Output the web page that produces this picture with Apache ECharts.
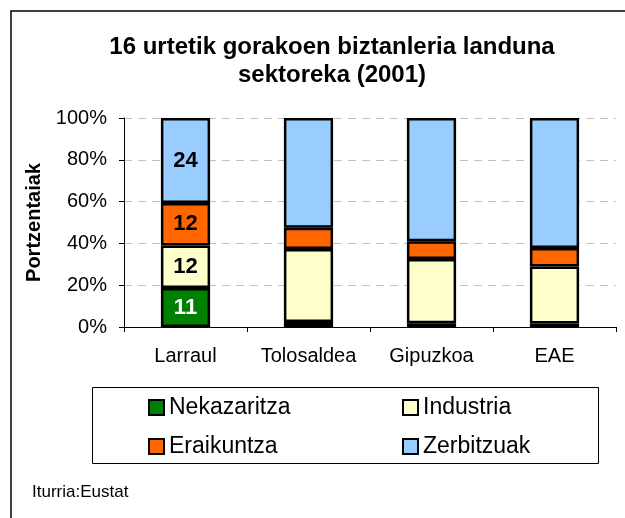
<!DOCTYPE html>
<html><head><meta charset="utf-8">
<script src="https://cdn.jsdelivr.net/npm/echarts@6/dist/echarts.min.js"></script>
<style>html,body{margin:0;padding:0;background:#fff}#c{width:625px;height:518px}</style>
</head><body><div id="c"></div>
<script>
const categories = ['Larraul', 'Tolosaldea', 'Gipuzkoa', 'EAE'];
const seriesNames = ['Nekazaritza', 'Industria', 'Eraikuntza', 'Zerbitzuak'];
// Larraul: persons (shown as labels); others: percentages
const nekazaritza = [11, 2.4, 1.8, 1.7];
const industria   = [12, 34.9, 30.7, 27.2];
const eraikuntza  = [12, 10.2, 8.5, 8.9];
const zerbitzuak  = [24, 52.5, 59.0, 62.2];
const labelled = [true, false, false, false];
const yTicks = [0, 20, 40, 60, 80, 100];
const colors = ['#008000', '#FFFFCC', '#FF6600', '#99CCFF'];
const labelColors = ['#fff', '#000', '#000', '#000'];

const raw = [nekazaritza, industria, eraikuntza, zerbitzuak];
const totals = categories.map((c, i) => raw.reduce((s, a) => s + a[i], 0));

const chart = echarts.init(document.getElementById('c'), null, {renderer: 'canvas'});
const FONT = 'Liberation Sans, Arial, sans-serif';
chart.setOption({
  animation: false,
  title: {
    text: '16 urtetik gorakoen biztanleria landuna\nsektoreka (2001)',
    left: 327, top: 28, textAlign: 'center',
    textStyle: {fontFamily: FONT, fontSize: 24, fontWeight: 'bold', color: '#000', lineHeight: 28}
  },
  graphic: [
    {type: 'rect', shape: {x: 11, y: 11, width: 640, height: 540}, style: {fill: 'none', stroke: '#000', lineWidth: 1.5}, z: -1},
    {type: 'rect', shape: {x: 92.5, y: 387.5, width: 506, height: 76}, style: {fill: 'none', stroke: '#000', lineWidth: 1}},
    {type: 'text', left: 32, top: 484, style: {text: 'Iturria:Eustat', font: '17px ' + FONT, fill: '#000'}}
  ],
  legend: [
    {data: [seriesNames[0], seriesNames[2]], orient: 'vertical', left: 143, top: 391,
     itemWidth: 15, itemHeight: 15, itemGap: 16, icon: 'rect',
     textStyle: {fontFamily: FONT, fontSize: 23, color: '#000'}},
    {data: [seriesNames[1], seriesNames[3]], orient: 'vertical', left: 397, top: 391,
     itemWidth: 15, itemHeight: 15, itemGap: 16, icon: 'rect',
     textStyle: {fontFamily: FONT, fontSize: 23, color: '#000'}}
  ],
  grid: {left: 124, right: 9, top: 118, height: 209, containLabel: false},
  xAxis: {
    type: 'category', data: categories,
    axisLine: {lineStyle: {color: '#000', width: 1}},
    axisTick: {show: true, length: 5, alignWithLabel: false, lineStyle: {color: '#000'}},
    axisLabel: {fontFamily: FONT, fontSize: 20, color: '#000', margin: 19, interval: 0}
  },
  yAxis: {
    type: 'value', min: 0, max: 100, interval: 20,
    name: 'Portzentaiak', nameLocation: 'middle', nameGap: 80, nameRotate: 90,
    nameTextStyle: {fontFamily: FONT, fontSize: 20, fontWeight: 'bold', color: '#000'},
    axisLine: {show: true, lineStyle: {color: '#000', width: 1}},
    axisTick: {show: true, length: 5, inside: false, lineStyle: {color: '#000'}},
    axisLabel: {fontFamily: FONT, fontSize: 20, color: '#000', margin: 17,
      formatter: v => yTicks.includes(v) ? v + '%' : ''},
    splitLine: {show: true, lineStyle: {color: '#c0c0c0', type: [8, 6], width: 1}}
  },
  series: seriesNames.map((name, s) => ({
    name, type: 'bar', stack: 'total', barWidth: '40%',
    itemStyle: {color: colors[s], borderColor: '#000', borderWidth: 2.5},
    label: {
      show: true, position: 'inside', fontFamily: FONT, fontSize: 22, fontWeight: 'bold',
      color: labelColors[s],
      formatter: p => labelled[p.dataIndex] ? String(raw[s][p.dataIndex]) : ''
    },
    data: raw[s].map((v, i) => v / totals[i] * 100)
  }))
});
</script></body></html>
